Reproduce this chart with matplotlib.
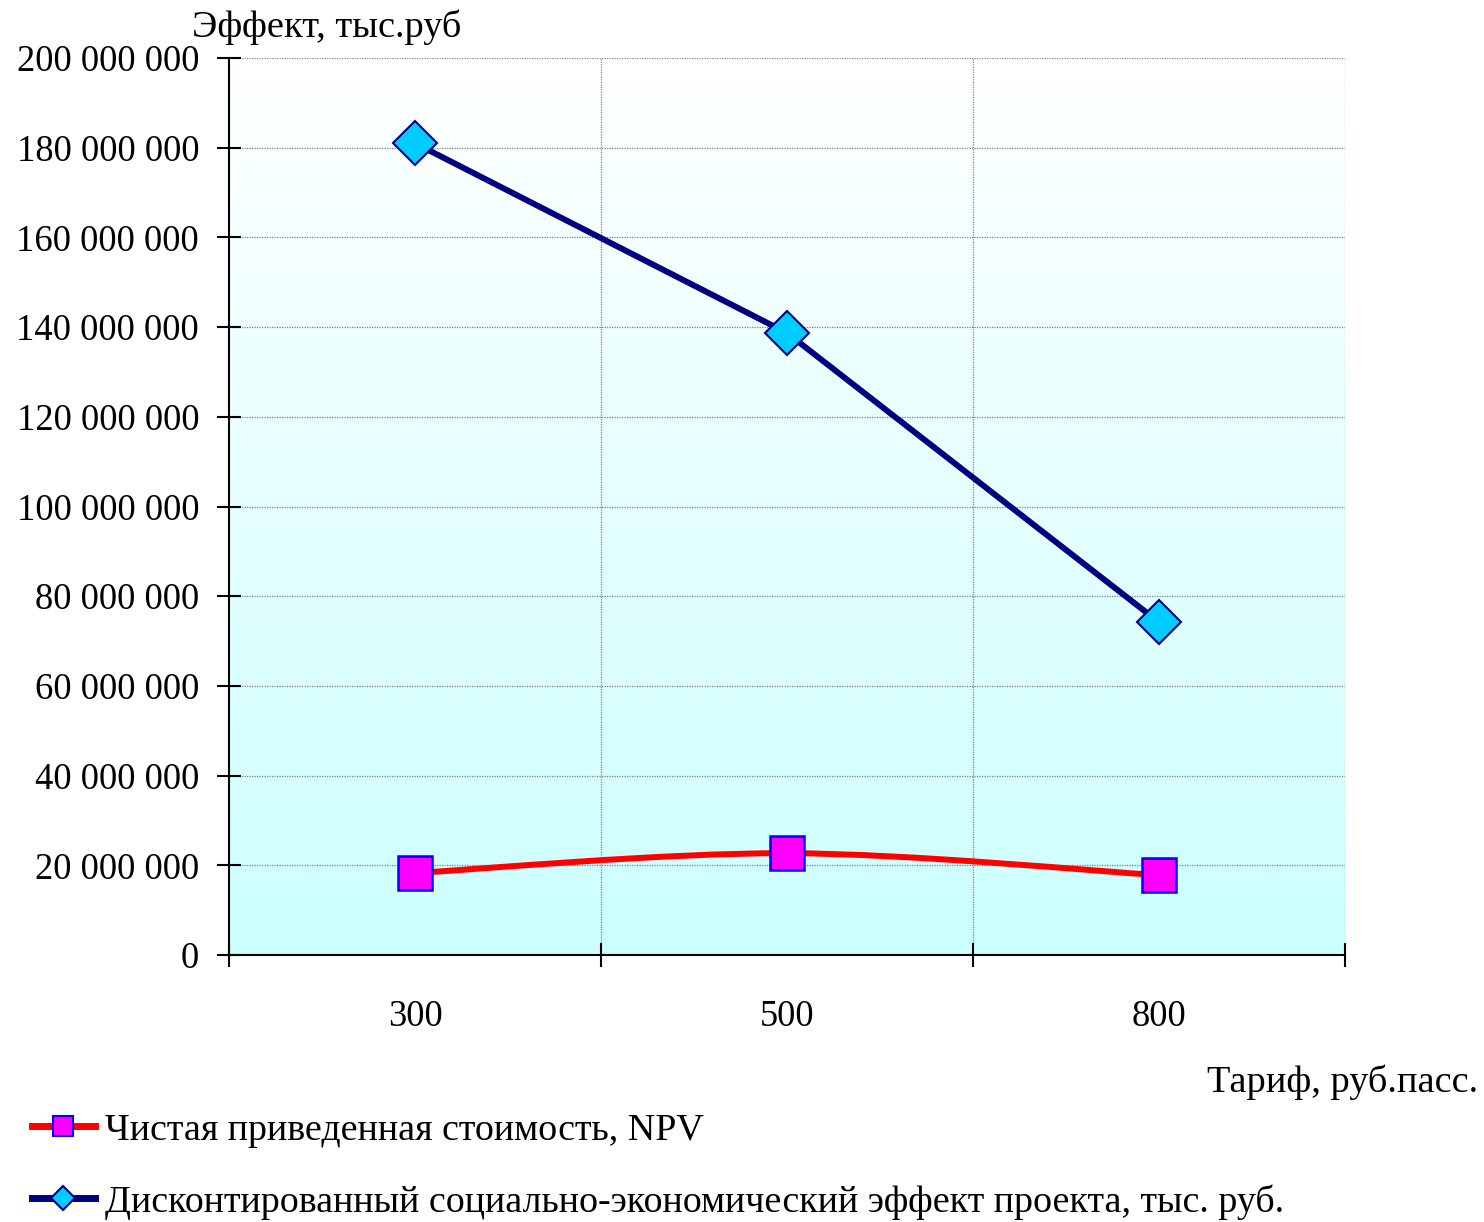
import numpy as np
import matplotlib
matplotlib.use("Agg")
import matplotlib.pyplot as plt
from matplotlib.path import Path
from matplotlib.patches import PathPatch
from matplotlib.lines import Line2D
from matplotlib.colors import LinearSegmentedColormap
from matplotlib.ticker import FuncFormatter, FixedLocator

# ---- data ----
categories = ["300", "500", "800"]
npv = [18.3e6, 22.7e6, 17.8e6]
social_effect = [181.0e6, 138.7e6, 74.2e6]
label_npv = "Чистая приведенная стоимость, NPV"
label_social = "Дисконтированный социально-экономический эффект проекта, тыс. руб."
y_title = "Эффект, тыс.руб"
x_title = "Тариф, руб.пасс."
y_ticks = [0, 20e6, 40e6, 60e6, 80e6, 100e6, 120e6, 140e6, 160e6, 180e6, 200e6]

plt.rcParams['font.family'] = ['Liberation Serif', 'DejaVu Serif']
FS = 27.6
FS_LEG = 27.4
FS_TICK = 26.3

fig = plt.figure(figsize=(14.84, 12.22), dpi=100)
ax = fig.add_axes([229/1484, 1-955/1222, (1345-229)/1484, (955-58)/1222])

xpos = np.arange(len(categories)) + 0.5

# gradient background: white at top, light cyan at bottom
cmap = LinearSegmentedColormap.from_list("bg", ["#FFFFFF", "#CCFFFF"])
grad = np.linspace(1, 0, 256).reshape(-1, 1)
ax.imshow(grad, extent=[0, 3, 0, 200e6], aspect='auto', cmap=cmap, zorder=0,
          origin='lower', interpolation='bilinear', vmin=0, vmax=1)

# blue straight line
ax.plot(xpos, social_effect, color="#000080", lw=4.3, zorder=3, solid_capstyle='round')
ax.plot(xpos, social_effect, ls='none', marker='D', ms=22.5, mfc="#00CCFF",
        mec="#000080", mew=1.5, zorder=4)

# red smoothed line (Catmull-Rom style Bezier)
pts = np.column_stack([xpos, npv])
verts = [tuple(pts[0])]
codes = [Path.MOVETO]
n = len(pts)
for i in range(n - 1):
    p0 = pts[i - 1] if i > 0 else pts[i]
    p1 = pts[i]
    p2 = pts[i + 1]
    p3 = pts[i + 2] if i + 2 < n else pts[i + 1]
    c1 = p1 + (p2 - p0) / 6.0
    c2 = p2 - (p3 - p1) / 6.0
    verts += [tuple(c1), tuple(c2), tuple(p2)]
    codes += [Path.CURVE4] * 3
ax.add_patch(PathPatch(Path(verts, codes), fill=False, ec="#FF0000", lw=4.3, zorder=3))
ax.plot(xpos, npv, ls='none', marker='s', ms=24, mfc="#FF00FF", mec="#0000FF",
        mew=1.8, zorder=4)

ax.set_xlim(0, 3)
ax.set_ylim(0, 200e6)

# ticks
ax.xaxis.set_major_locator(FixedLocator(xpos))
ax.set_xticklabels(categories)
ax.xaxis.set_minor_locator(FixedLocator([0, 1, 2, 3]))
ax.tick_params(axis='x', which='major', length=0, pad=32, labelsize=FS_TICK)
ax.tick_params(axis='x', which='minor', direction='inout', length=17, width=1.5)
ax.yaxis.set_major_locator(FixedLocator(y_ticks))
ax.yaxis.set_major_formatter(FuncFormatter(lambda v, p: f"{v:,.0f}".replace(",", " ")))
ax.tick_params(axis='y', which='major', direction='inout', length=17, width=1.5,
               pad=13, labelsize=FS_TICK)

# grid
ax.grid(False)
for yv in y_ticks[1:]:
    ax.axhline(yv, color="#808080", lw=0.9, ls=(0, (1, 1)), zorder=1)
for xv in [1, 2, 3]:
    ax.axvline(xv, color="#808080", lw=0.9, ls=(0, (1, 1)), zorder=1)

for s in ['top', 'right']:
    ax.spines[s].set_visible(False)
for s in ['left', 'bottom']:
    ax.spines[s].set_linewidth(1.5)
    ax.spines[s].set_zorder(5)

fig.text(327/1484, 1-27/1222, y_title, ha='center', va='center', fontsize=FS)
fig.text(1478/1484, 1-1082/1222, x_title, ha='right', va='center', fontsize=FS)

h1 = Line2D([], [], color="#FF0000", lw=5, marker='s', ms=15, mfc="#FF00FF",
            mec="#0000FF", mew=1.5)
h2 = Line2D([], [], color="#000080", lw=5, marker='D', ms=12, mfc="#00CCFF",
            mec="#000080", mew=1.5)
fig.legend([h1, h2], [label_npv, label_social], loc='upper left',
           bbox_to_anchor=(32/1484, 1-1113/1222), frameon=False, fontsize=FS_LEG,
           handlelength=1.65, handletextpad=0.26, labelspacing=0.96, borderpad=0,
           borderaxespad=0)

fig.savefig("out.png", dpi=100)
